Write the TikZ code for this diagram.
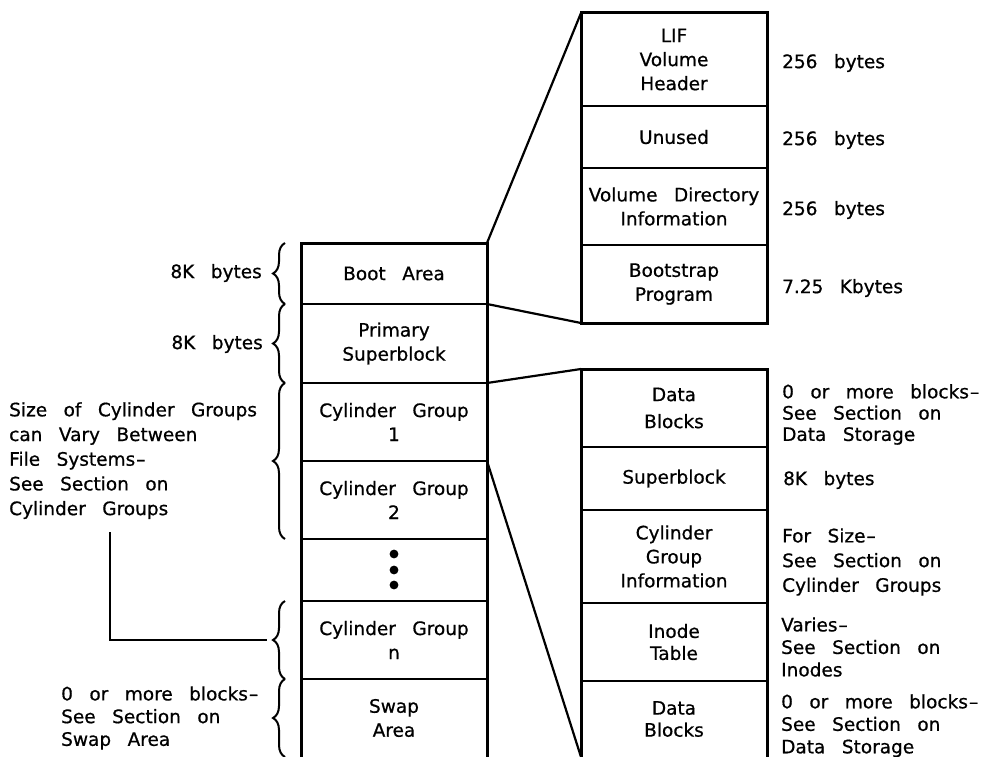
\documentclass[tikz,border=0pt]{standalone}
\usepackage{fontspec}
\setmainfont{DejaVu Sans}[WordSpace=2.8, FakeBold=0.7]
\usetikzlibrary{decorations.pathreplacing}
\newcommand{\dsh}{\kern1pt\textendash\kern-1pt}
\begin{document}
\begin{tikzpicture}[x=1pt,y=-1pt,
  txt/.style={font=\fontsize{18.5}{24}\selectfont, align=center, inner sep=0pt},
  lbl/.style={txt, align=left},
  rlbl/.style={txt, align=right},
  cell/.style={txt, minimum width=186pt, outer sep=0pt},
  outline/.style={line width=3pt, line join=miter},
  divider/.style={line width=2.4pt},
  conn/.style={line width=2.2pt},
  bracestyle/.style={line width=2pt, decorate, decoration={brace, amplitude=12pt}},
  dotmark/.style={fill=black},
]
\useasboundingbox (0,0) rectangle (993,757);

% ---------- left column ----------
\node[cell, minimum height=61pt] (boot) at (394,273.5) {Boot Area};
\node[cell, minimum height=79pt] (psb)  at (394,343.5) {Primary\\Superblock};
\node[cell, minimum height=78pt] (cg1)  at (394,422)   {Cylinder Group\\1};
\node[cell, minimum height=78pt] (cg2)  at (394,500)   {Cylinder Group\\2};
\node[cell, minimum height=62pt] (dots) at (394,570)   {};
\node[cell, minimum height=78pt] (cgn)  at (394,640)   {Cylinder Group\\n};
\node[cell, minimum height=78pt] (swap) at (394,718)   {Swap\\Area};

\draw[outline] (swap.south west) -- (boot.north west) -- (boot.north east) -- (swap.south east);
\foreach \a in {boot,psb,cg1,cg2,dots,cgn}
  \draw[divider] (\a.south west) -- (\a.south east);

\fill[dotmark] (394,554) circle[radius=4.4pt];
\fill[dotmark] (394,570) circle[radius=4.4pt];
\fill[dotmark] (394,585) circle[radius=4.4pt];

% ---------- top right column ----------
\node[cell, minimum height=93pt] (lif)    at (674,59.5)  {LIF\\Volume\\Header};
\node[cell, minimum height=62pt] (unused) at (674,137)   {Unused};
\node[cell, minimum height=77pt] (vdi)    at (674,206.5) {Volume Directory\\Information};
\node[cell, minimum height=78pt] (bsp)    at (674,284)   {Bootstrap\\Program};

\draw[outline] (lif.north west) rectangle (bsp.south east);
\foreach \a in {lif,unused,vdi}
  \draw[divider] (\a.south west) -- (\a.south east);

% ---------- lower right column ----------
\node[cell, minimum height=78pt, font=\fontsize{18.5}{27}\selectfont] (db1) at (674,408) {Data\\Blocks};
\node[cell, minimum height=63pt] (sb)    at (674,478.5) {Superblock};
\node[cell, minimum height=93pt] (cgi)   at (674,556.5) {Cylinder\\Group\\Information};
\node[cell, minimum height=78pt, font=\fontsize{18.5}{22}\selectfont] (inode) at (674,642) {Inode\\Table};
\node[cell, minimum height=76pt, font=\fontsize{18.5}{22}\selectfont] (db2)   at (674,719) {Data\\Blocks};

\draw[outline] (db2.south west) -- (db1.north west) -- (db1.north east) -- (db2.south east);
\foreach \a in {db1,sb,cgi,inode}
  \draw[divider] (\a.south west) -- (\a.south east);

% ---------- expansion connectors ----------
\draw[conn] (boot.north east) -- (lif.north west);
\draw[conn] (boot.south east) -- (bsp.south west);
\draw[conn] (psb.south east) -- (db1.north west);
\draw[conn] (cg1.south east) -- (db2.south west);

% ---------- braces ----------
\draw[bracestyle] ([xshift=-16pt]boot.south west) -- ([xshift=-16pt]boot.north west);
\draw[bracestyle] ([xshift=-16pt]psb.south west) -- ([xshift=-16pt]psb.north west);
\draw[bracestyle] ([xshift=-16pt]cg2.south west) -- ([xshift=-16pt]cg1.north west);
\draw[bracestyle] ([xshift=-16pt]cgn.south west) -- ([xshift=-16pt]cgn.north west);
\draw[bracestyle] ([xshift=-16pt]swap.south west) -- ([xshift=-16pt]swap.north west);

% ---------- left labels ----------
\node[rlbl, anchor=east] (l8a) at (262,273) {8K bytes};
\node[rlbl, anchor=east] (l8b) at (263,344) {8K bytes};
\node[lbl, anchor=west, font=\fontsize{18.5}{24.7}\selectfont] (lsize) at (9,460.6)
  {Size of Cylinder Groups\\can Vary Between\\File Systems\dsh\\See Section on\\Cylinder Groups};
\node[lbl, anchor=west, font=\fontsize{18.5}{22.7}\selectfont] (lswap) at (61,718)
  {0 or more blocks\dsh\\See Section on\\Swap Area};

\coordinate (sizefoot) at (110,532);
\coordinate (tipn) at ([xshift=-34pt]cgn.west);
\draw[conn] (sizefoot) |- (tipn);

% ---------- right labels ----------
\node[lbl, anchor=west] (r1) at (782,63)  {256 bytes};
\node[lbl, anchor=west] (r2) at (782,140) {256 bytes};
\node[lbl, anchor=west] (r3) at (782,210) {256 bytes};
\node[lbl, anchor=west] (r4) at (782,288) {7.25 Kbytes};
\node[lbl, anchor=west, font=\fontsize{18.5}{21.3}\selectfont] (r5) at (782,414.5)
  {0 or more blocks\dsh\\See Section on\\Data Storage};
\node[lbl, anchor=west] (r6) at (783,480) {8K bytes};
\node[lbl, anchor=west, font=\fontsize{18.5}{24.7}\selectfont] (r7) at (782,562)
  {For Size\dsh\\See Section on\\Cylinder Groups};
\node[lbl, anchor=west, font=\fontsize{18.5}{22.5}\selectfont] (r8) at (781,647)
  {Varies\dsh\\See Section on\\Inodes};
\node[lbl, anchor=west, font=\fontsize{18.5}{22.5}\selectfont] (r9) at (781,725.7)
  {0 or more blocks\dsh\\See Section on\\Data Storage};
\end{tikzpicture}
\end{document}
